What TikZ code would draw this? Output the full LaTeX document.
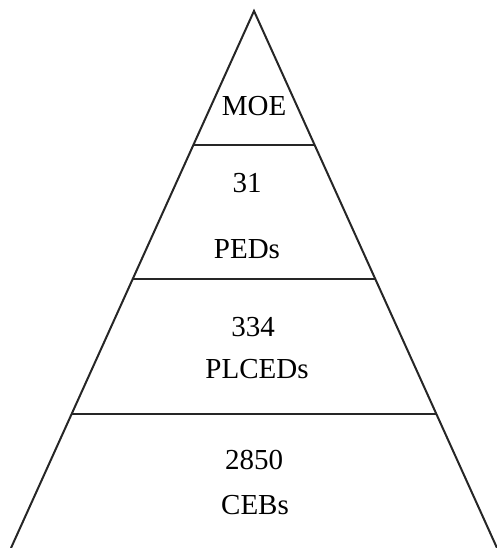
\documentclass[tikz,border=0pt]{standalone}
\usepackage{fontspec}
\setmainfont{Liberation Serif}
\usetikzlibrary{calc}

\tikzset{
  tier/.style={font=\fontsize{29}{32}\selectfont, anchor=base, inner sep=0pt},
  edge/.style={line width=2pt, black!85}
}

\begin{document}
\begin{tikzpicture}[x=1pt,y=1pt]
    \useasboundingbox (0,0) rectangle (497,548);
    \coordinate (apex) at (254,537);
    \coordinate (bl) at (11,0);
    \coordinate (br) at (497,0);
    \draw [edge] (bl) -- (apex) -- (br);
    % levels
    \foreach \t [count=\k] in {0.25,0.5,0.75}{
      \draw [edge] ($(apex)!\t!(bl)$) -- ($(apex)!\t!(br)$);
    }
    \node [tier] (moe) at (254,432) {MOE};
    \node [tier] (ped-n) at (247,355) {31};
    \node [tier] (ped) at (247,289) {PEDs};
    \node [tier] (plced-n) at (253,211) {334};
    \node [tier] (plced) at (257,169) {PLCEDs};
    \node [tier] (ceb-n) at (254,78) {2850};
    \node [tier] (ceb) at (255,33) {CEBs};
\end{tikzpicture}
\end{document}
